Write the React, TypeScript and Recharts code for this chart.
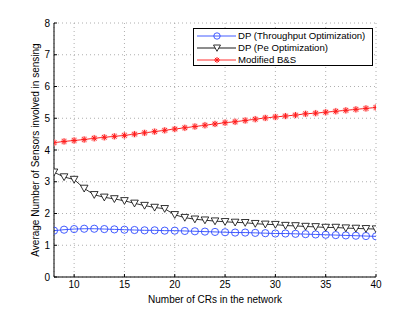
import React from 'react';
import { LineChart, Line, XAxis, YAxis, CartesianGrid } from 'recharts';

const crs = [8, 9, 10, 11, 12, 13, 14, 15, 16, 17, 18, 19, 20, 21, 22, 23, 24, 25, 26, 27, 28, 29, 30, 31, 32, 33, 34, 35, 36, 37, 38, 39, 40];
const dpThroughput = [1.46, 1.49, 1.51, 1.52, 1.52, 1.51, 1.50, 1.49, 1.48, 1.47, 1.47, 1.46, 1.46, 1.45, 1.44, 1.43, 1.42, 1.41, 1.40, 1.40, 1.39, 1.38, 1.37, 1.37, 1.36, 1.35, 1.34, 1.33, 1.32, 1.31, 1.30, 1.29, 1.28];
const dpPe = [3.30, 3.15, 3.07, 2.79, 2.59, 2.51, 2.46, 2.40, 2.32, 2.25, 2.19, 2.15, 1.96, 1.87, 1.82, 1.79, 1.76, 1.74, 1.72, 1.71, 1.68, 1.66, 1.65, 1.62, 1.61, 1.59, 1.58, 1.56, 1.56, 1.54, 1.53, 1.52, 1.51];
const modifiedBS = [4.23, 4.27, 4.30, 4.33, 4.37, 4.40, 4.43, 4.46, 4.50, 4.54, 4.58, 4.62, 4.66, 4.70, 4.74, 4.78, 4.82, 4.86, 4.89, 4.93, 4.97, 5.01, 5.04, 5.07, 5.10, 5.14, 5.16, 5.19, 5.22, 5.25, 5.28, 5.31, 5.34];
const xTicks = [10, 15, 20, 25, 30, 35, 40];
const yTicks = [0, 1, 2, 3, 4, 5, 6, 7, 8];
const seriesNames = ['DP (Throughput Optimization)', 'DP (Pe Optimization)', 'Modified B&S'];

const data = crs.map((x, i) => ({ x, a: dpThroughput[i], b: dpPe[i], c: modifiedBS[i] }));

const BLUE = '#2f4bff';
const RED = '#ff1a1a';
const FONT = 'Liberation Sans, Arial, Helvetica, sans-serif';

const CircleDot = (p: any) => (
  <circle key={p.index} cx={p.cx} cy={p.cy} r={3.6} fill="none" stroke={BLUE} strokeWidth={0.9} />
);
const TriDot = (p: any) => (
  <path key={p.index} d={`M${p.cx - 3.8},${p.cy - 3.2}L${p.cx + 3.8},${p.cy - 3.2}L${p.cx},${p.cy + 3.6}Z`} fill="#fff" stroke="#000" strokeWidth={0.8} />
);
const StarDot = (p: any) => {
  const r = 3;
  const d = r * 0.72;
  return (
    <g key={p.index}>
      <circle cx={p.cx} cy={p.cy} r={3.4} fill="#ffb3b3" opacity={0.7} />
      <path d={`M${p.cx - r},${p.cy}L${p.cx + r},${p.cy}M${p.cx},${p.cy - r}L${p.cx},${p.cy + r}M${p.cx - d},${p.cy - d}L${p.cx + d},${p.cy + d}M${p.cx - d},${p.cy + d}L${p.cx + d},${p.cy - d}`} stroke={RED} strokeWidth={1} />
    </g>
  );
};

const legendIcons = [
  (cx: number, cy: number) => <circle cx={cx} cy={cy} r={3.2} fill="none" stroke={BLUE} strokeWidth={0.9} />,
  (cx: number, cy: number) => <path d={`M${cx - 3.5},${cy - 3}L${cx + 3.5},${cy - 3}L${cx},${cy + 3.3}Z`} fill="#fff" stroke="#000" strokeWidth={0.8} />,
  (cx: number, cy: number) => <path d={`M${cx - 3},${cy}L${cx + 3},${cy}M${cx},${cy - 3}L${cx},${cy + 3}M${cx - 2.1},${cy - 2.1}L${cx + 2.1},${cy + 2.1}M${cx - 2.1},${cy + 2.1}L${cx + 2.1},${cy - 2.1}`} stroke={RED} strokeWidth={1} />,
];
const legendColors = [BLUE, '#000', RED];

const LegendBox = () => (
  <div style={{ position: 'absolute', left: 193, top: 28, border: '1px solid #000', background: '#fff', width: 180, height: 38, boxSizing: 'border-box', paddingTop: 1, fontFamily: FONT, fontSize: 9.6, color: '#000' }}>
    {seriesNames.map((n, i) => (
      <div key={n} style={{ display: 'flex', alignItems: 'center', height: 12, lineHeight: '12px' }}>
        <svg width={42} height={12} style={{ marginLeft: 2, flexShrink: 0 }}>
          <line x1={1} y1={6} x2={40} y2={6} stroke={legendColors[i]} strokeWidth={0.9} />
          {legendIcons[i](21, 6)}
        </svg>
        <span style={{ whiteSpace: 'nowrap' }}>{n}</span>
      </div>
    ))}
  </div>
);

export default function App() {
  const tickStyle = { fontSize: 10, fill: '#000', fontFamily: FONT };
  return (
    <div style={{ position: 'absolute', left: 0, top: 0, width: 415, height: 312, background: '#fff' }}>
      <LineChart width={415} height={312} data={data} margin={{ top: 23, right: 39, bottom: 0, left: 0 }}>
        <CartesianGrid stroke="#9a9a9a" strokeDasharray="1 3" strokeWidth={0.8} />
        <XAxis dataKey="x" type="number" domain={[8, 40]} ticks={xTicks} tick={tickStyle} height={35}
          axisLine={{ stroke: '#000', strokeWidth: 1 }} tickLine={{ stroke: '#000' }} tickSize={-3} tickMargin={7} allowDataOverflow
          label={{ value: 'Number of CRs in the network', position: 'insideBottom', offset: 9, style: { fontSize: 10, fill: '#000', fontFamily: FONT } }} />
        <XAxis xAxisId="top" orientation="top" dataKey="x" type="number" domain={[8, 40]} ticks={xTicks} tick={false} height={0}
          axisLine={{ stroke: '#000', strokeWidth: 1 }} tickLine={{ stroke: '#000' }} tickSize={-3} />
        <YAxis type="number" domain={[0, 8]} ticks={yTicks} tick={tickStyle} width={54}
          axisLine={{ stroke: '#000', strokeWidth: 1 }} tickLine={{ stroke: '#000' }} tickSize={-3} tickMargin={7} interval={0}
          label={{ value: 'Average Number of Sensors involved in sensing', angle: -90, position: 'center', dx: 8, style: { fontSize: 10, fill: '#000', fontFamily: FONT, textAnchor: 'middle' } }} />
        <YAxis yAxisId="right" orientation="right" type="number" domain={[0, 8]} ticks={yTicks} tick={false} width={0}
          axisLine={{ stroke: '#000', strokeWidth: 1 }} tickLine={{ stroke: '#000' }} tickSize={-3} />
        <Line dataKey="a" name={seriesNames[0]} stroke={BLUE} strokeWidth={0.9} dot={CircleDot} isAnimationActive={false} />
        <Line dataKey="b" name={seriesNames[1]} stroke="#000" strokeWidth={0.8} dot={TriDot} isAnimationActive={false} />
        <Line dataKey="c" name={seriesNames[2]} stroke={RED} strokeWidth={1} dot={StarDot} isAnimationActive={false} />
      </LineChart>
      <LegendBox />
    </div>
  );
}
